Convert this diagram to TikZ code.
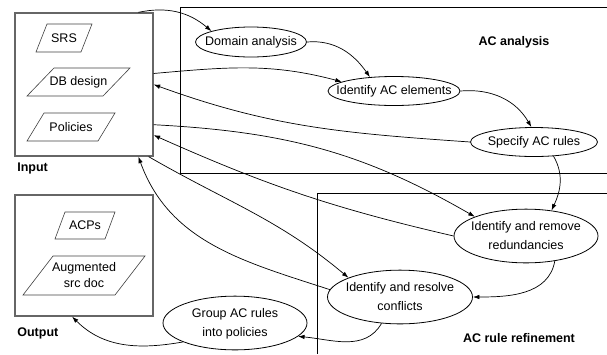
\documentclass[tikz,border=0pt]{standalone}
\usepackage{fontspec}
\setmainfont{Liberation Sans}
\usetikzlibrary{arrows.meta,shapes.geometric}

\newcommand{\ctr}[1]{\makebox[0pt]{\begin{tabular}{@{}c@{}}#1\end{tabular}}}

\begin{document}
\begin{tikzpicture}[x=1pt, y=1pt, -{Latex[length=6.5pt,width=4.5pt]}, line width=0.7pt,
    font=\fontsize{12.5}{19}\selectfont]
   \useasboundingbox (0,0) rectangle (607,-354);
   \tikzstyle{task}=[ellipse, draw=black, inner sep=0pt, line width=0.8pt]
   \tikzstyle{doc}=[inner sep=0pt, align=center, font=\fontsize{12.5}{16}\selectfont]
   \tikzstyle{docline}=[-, draw=black!75, line width=0.6pt]
   \tikzstyle{box}=[rectangle, draw=black!60, line width=1.3pt]
   % phase frames
   \draw[-] (607,-7) -- (180,-7) -- (180,-173) -- (607,-173);
   \draw[-] (607,-193) -- (317,-193) -- (317,-354);
   \node (analysislabel) at (514,-42) {\bfseries AC analysis};
   \node (refinelabel) at (519,-338) {\bfseries AC rule refinement};
   % input and output
   \node[box, minimum width=138, minimum height=143] (input) at (84,-84.5) {};
   \node[box, minimum width=138, minimum height=121] (output) at (84,-255.5) {};
   \node[anchor=west, inner sep=0pt] (inputlabel) at (17,-168) {\bfseries Input};
   \node[anchor=west, inner sep=0pt] (outputlabel) at (17,-333) {\bfseries Output};
   % documents (slanted boxes)
   \foreach \n/\x/\y/\w/\h/\o/\t in {srs/64/-38/56/28/11/{SRS},
       dbdesign/78.5/-82/103/28/27/{DB design},
       policies/71/-127/88/28/17/{Policies},
       acps/85/-225.5/60/27/10/{ACPs},
       augdoc/84/-275.5/122/39/30/{Augmented\\src doc}} {
       \node[doc] (\n) at (\x,\y) {\t};
       \draw[docline, shift={(\n.center)}] ({-\w/2},{-\h/2}) -- ({\w/2-\o},{-\h/2})
           -- ({\w/2},{\h/2}) -- ({-\w/2+\o},{\h/2}) -- cycle;
   }
   % tasks
   \node[task, minimum width=111, minimum height=30] (domain) at (251,-42) {\ctr{Domain analysis}};
   \node[task, minimum width=132, minimum height=29] (elements) at (394,-91) {\ctr{Identify AC elements}};
   \node[task, minimum width=127, minimum height=29] (rules) at (534,-142) {\ctr{Specify AC rules}};
   \node[task, minimum width=144, minimum height=50] (redundant) at (526,-236) {\ctr{Identify and remove\\redundancies}};
   \node[task, minimum width=145, minimum height=50] (conflicts) at (400,-297) {\ctr{Identify and resolve\\conflicts}};
   \node[task, minimum width=144, minimum height=50] (group) at (235,-323) {\ctr{Group AC rules\\into policies}};
   % flow
   \path (input.53) edge[out=12, in=140] (domain.north west);
   \path (domain.east) edge[out=5, in=125] (elements.150);
   \path (input.9) edge[out=5, in=165] (elements.170);
   \path (elements.east) edge[out=5, in=120] (rules.100);
   \path (rules.west) edge[out=176, in=-20] (input.east);
   \path (input.-30) edge[out=-3, in=150] (redundant.north west);
   \path ([xshift=-5pt]input.south east) edge[out=-30, in=140] (conflicts.north west);
   \path (redundant.west) edge[out=167, in=-24] (input.-36);
   \path (rules.-36) edge[out=-60, in=65] (redundant.45);
   \path (redundant.-41) edge[out=-100, in=0] (conflicts.east);
   \path (conflicts.-125) edge[out=-120, in=-5] (group.-12);
   \path (group.200) edge[out=190, in=-45] (output.-101);
   \path (conflicts.174) edge[out=162, in=-70] (input.-53);
\end{tikzpicture}
\end{document}
